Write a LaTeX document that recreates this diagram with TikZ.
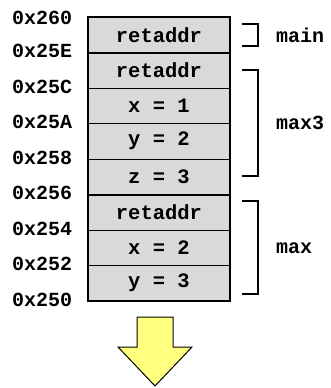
\documentclass[tikz,border=0pt]{standalone}
\usepackage{fontspec}
\setmonofont{Liberation Mono}
\begin{document}
\begin{tikzpicture}[x=1pt,y=-1pt,
  cell/.style={draw=black,line width=0.9pt,fill=cellgray,minimum width=142pt,minimum height=35.5pt,inner sep=0pt,font=\ttfamily\bfseries\fontsize{20.5}{24}\selectfont},
  addr/.style={anchor=west,inner sep=0pt,font=\ttfamily\bfseries\fontsize{20}{24}\selectfont},
  fname/.style={anchor=west,inner sep=0pt,font=\ttfamily\bfseries\fontsize{20}{24}\selectfont},
  thick frame/.style={draw=black,line width=2pt},
  brace/.style={draw=black,line width=1.8pt}]
\definecolor{cellgray}{RGB}{217,217,217}
\definecolor{arrowyellow}{RGB}{255,255,128}
\useasboundingbox (0,0) rectangle (331,388);
% cells
\node[cell] (c0) at (159,34.75) {retaddr};
\node[cell] (c1) at (159,70.25) {retaddr};
\node[cell] (c2) at (159,105.75) {x = 1};
\node[cell] (c3) at (159,141.25) {y = 2};
\node[cell] (c4) at (159,176.75) {z = 3};
\node[cell] (c5) at (159,212.25) {retaddr};
\node[cell] (c6) at (159,247.75) {x = 2};
\node[cell] (c7) at (159,283.25) {y = 3};
% frame borders
\draw[thick frame] (c0.north west) rectangle (c7.south east);
\draw[thick frame] (c0.south west) -- (c0.south east);
\draw[thick frame] (c4.south west) -- (c4.south east);
% addresses
\node[addr] (a0) at (12,17.5) {0x260};
\node[addr] (a1) at (12,51) {0x25E};
\node[addr] (a2) at (12,86.5) {0x25C};
\node[addr] (a3) at (12,122) {0x25A};
\node[addr] (a4) at (12,157.5) {0x258};
\node[addr] (a5) at (12,193) {0x256};
\node[addr] (a6) at (12,228.5) {0x254};
\node[addr] (a7) at (12,264) {0x252};
\node[addr] (a8) at (12,299.5) {0x250};
% brackets
\draw[brace] (242,24) -- (258,24) -- (258,46) -- (242,46);
\draw[brace] (242,70) -- (258,70) -- (258,176) -- (242,176);
\draw[brace] (242,201) -- (258,201) -- (258,294) -- (242,294);
\node[fname] (fmain) at (276,35) {main};
\node[fname] (fmax3) at (276,123) {max3};
\node[fname] (fmax) at (276,248) {max};
% arrow
\draw[fill=arrowyellow,line width=1pt,line join=miter]
  (137,317) -- (173,317) -- (173,347) -- (192,347) -- (155,386) -- (118,347) -- (137,347) -- cycle;
\end{tikzpicture}
\end{document}
